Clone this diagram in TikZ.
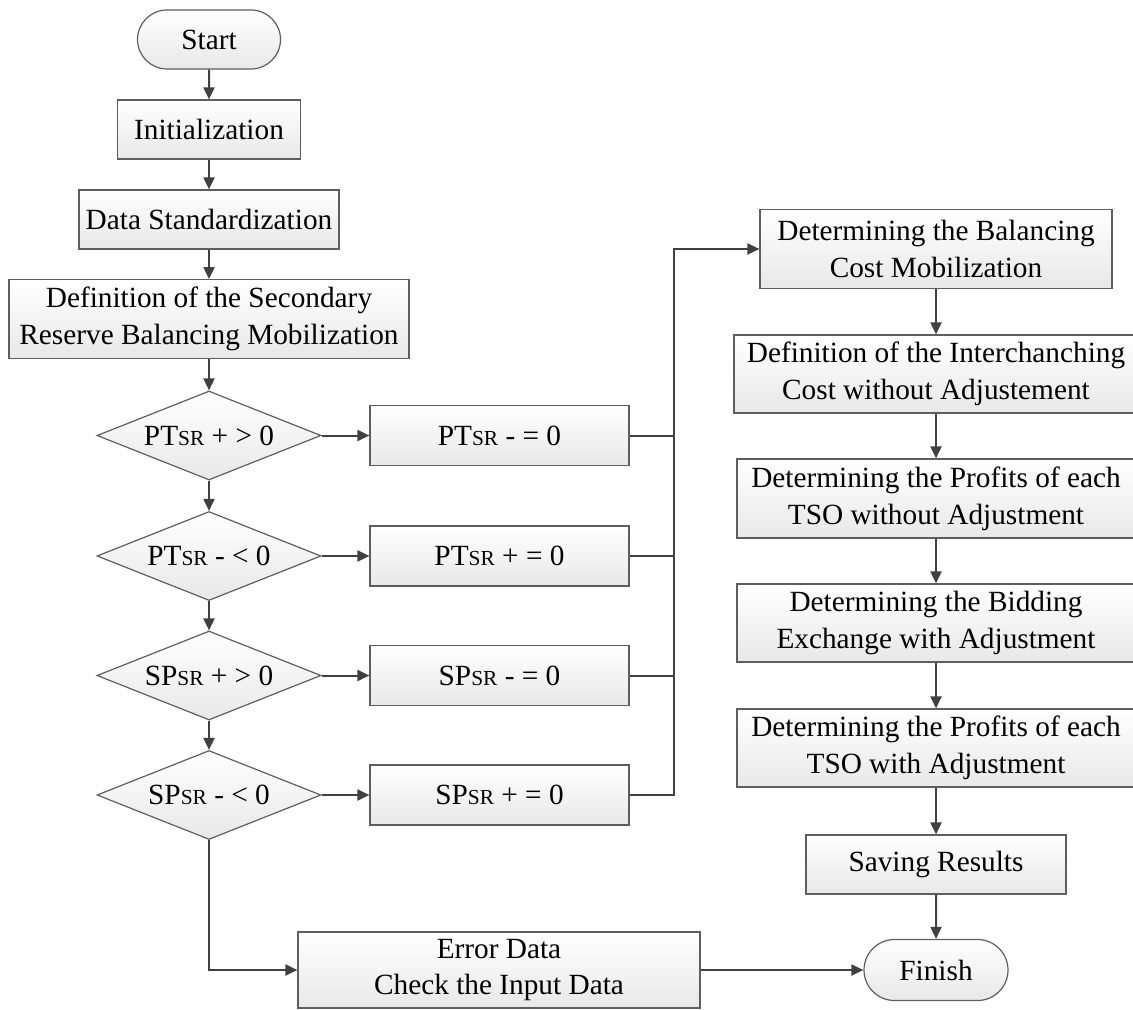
\documentclass[tikz,border=0pt]{standalone}
\usepackage{fontspec}
\setmainfont{Liberation Serif}
\usetikzlibrary{shapes.geometric,shapes.misc,arrows.meta}
\definecolor{linegray}{HTML}{404040}
\definecolor{edgegray}{HTML}{5E5E5E}
\newcommand{\subSR}{{\fontsize{10.7pt}{12pt}\selectfont SR}}
\tikzset{
  box/.style={rectangle,draw=edgegray,line width=0.6pt,top color=white,bottom color=black!9,
    font=\fontsize{14.65pt}{18.35pt}\selectfont,align=center,inner sep=2pt},
  term/.style={box,rounded rectangle},
  test/.style={box,diamond,aspect=2.5,inner sep=0pt,minimum width=112pt,minimum height=44.5pt},
  flow/.style={draw=linegray,line width=1pt,-{Triangle[length=6pt,width=5.5pt]}},
  link/.style={draw=linegray,line width=1pt}
}
\begin{document}
\begin{tikzpicture}[x=0.5pt,y=-0.5pt]
\useasboundingbox (0,0) rectangle (1133,1010);
% left column
\node[term,minimum width=75.5pt,minimum height=29.5pt] (start) at (209,39.5) {Start};
\node[box,minimum width=91.5pt,minimum height=29.5pt] (init) at (209,129.5) {Initialization};
\node[box,minimum width=130pt,minimum height=29.5pt] (std) at (209,219.5) {Data Standardization};
\node[box,minimum width=200pt,minimum height=39.3pt] (def) at (209,319) {Definition of the Secondary\\Reserve Balancing Mobilization};
\node[test] (pplus) at (209,435.5) {PT\subSR{} + > 0};
\node[test] (pminus) at (209,556) {PT\subSR{} - < 0};
\node[test] (splus) at (209,675.5) {SP\subSR{} + > 0};
\node[test] (sminus) at (209,795) {SP\subSR{} - < 0};
% reset boxes
\node[box,minimum width=129.5pt,minimum height=30pt] (rpplus) at (499.5,435.5) {PT\subSR{} - = 0};
\node[box,minimum width=129.5pt,minimum height=30pt] (rpminus) at (499.5,556) {PT\subSR{} + = 0};
\node[box,minimum width=129.5pt,minimum height=30pt] (rsplus) at (499.5,675.5) {SP\subSR{} - = 0};
\node[box,minimum width=129.5pt,minimum height=30pt] (rsminus) at (499.5,795) {SP\subSR{} + = 0};
\node[box,minimum width=201pt,minimum height=38pt] (err) at (499,970) {Error Data\\Check the Input Data};
% right column
\node[box,minimum width=176pt,minimum height=39.25pt] (cost) at (936,249) {Determining the Balancing\\Cost Mobilization};
\node[box,minimum width=202pt,minimum height=39pt] (inter) at (936,374) {Definition of the Interchanching\\Cost without Adjustement};
\node[box,minimum width=199pt,minimum height=39.5pt] (profa) at (936,498.5) {Determining the Profits of each\\TSO without Adjustment};
\node[box,minimum width=199pt,minimum height=39pt] (bid) at (936,623) {Determining the Bidding\\Exchange with Adjustment};
\node[box,minimum width=199pt,minimum height=39pt] (profb) at (936,748) {Determining the Profits of each\\TSO with Adjustment};
\node[box,minimum width=130pt,minimum height=29.5pt] (save) at (936,864.5) {Saving Results};
\node[term,minimum width=76pt,minimum height=30.5pt] (finish) at (936,970) {Finish};
\coordinate (bus) at (674,249);
% connectors
\draw[flow] (start) -- (init);
\draw[flow] (init) -- (std);
\draw[flow] (std) -- (def);
\draw[flow] (def) -- (pplus);
\draw[flow] (pplus) -- (pminus);
\draw[flow] (pminus) -- (splus);
\draw[flow] (splus) -- (sminus);
\draw[flow] (pplus) -- (rpplus);
\draw[flow] (pminus) -- (rpminus);
\draw[flow] (splus) -- (rsplus);
\draw[flow] (sminus) -- (rsminus);
\draw[link] (rpplus.east) -- (rpplus.east -| bus);
\draw[link] (rpminus.east) -- (rpminus.east -| bus);
\draw[link] (rsplus.east) -- (rsplus.east -| bus);
\draw[flow] (rsminus.east) -- (rsminus.east -| bus) -- (bus) -- (cost.west);
\draw[flow] (cost) -- (inter);
\draw[flow] (inter) -- (profa);
\draw[flow] (profa) -- (bid);
\draw[flow] (bid) -- (profb);
\draw[flow] (profb) -- (save);
\draw[flow] (save) -- (finish);
\draw[flow] (sminus.south) |- (err.west);
\draw[flow] (err) -- (finish);
\end{tikzpicture}
\end{document}
